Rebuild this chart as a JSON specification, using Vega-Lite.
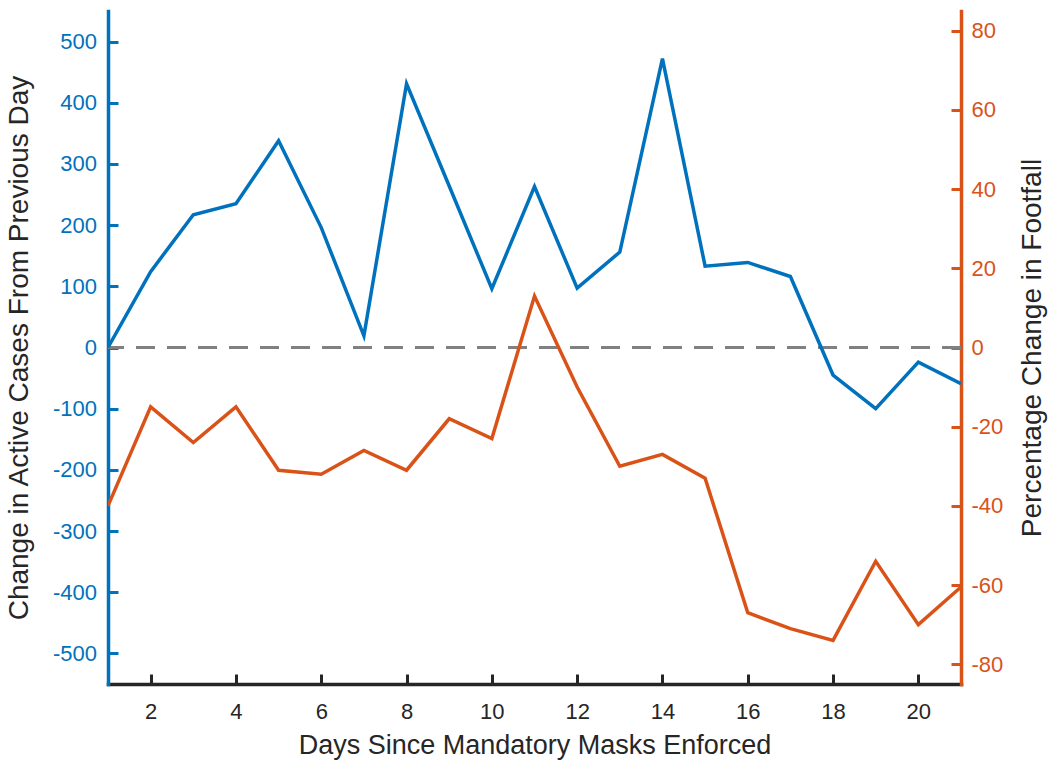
{
  "$schema": "https://vega.github.io/schema/vega-lite/v6.json",
  "width": 853,
  "height": 673,
  "autosize": {"type": "none"},
  "padding": {"left": 108, "top": 11, "right": 92, "bottom": 76},
  "background": "white",
  "config": {
    "view": {"stroke": null},
    "font": "Liberation Sans",
    "axis": {"grid": false, "labelFont": "Liberation Sans", "titleFont": "Liberation Sans", "labelFontSize": 22, "titleFontSize": 28, "titleFontWeight": "normal", "tickSize": -10, "tickWidth": 3, "domainWidth": 3.5, "domainCap": "square", "labelOverlap": false, "labelFlush": false, "titleColor": "#262626", "labelExpr": "datum.value < 0 ? '-' + abs(datum.value) : '' + datum.value"}
  },
  "data": {
    "values": [
      {"day": 1, "cases": 0, "footfall": -40},
      {"day": 2, "cases": 124, "footfall": -15},
      {"day": 3, "cases": 217, "footfall": -24},
      {"day": 4, "cases": 235, "footfall": -15},
      {"day": 5, "cases": 338, "footfall": -31},
      {"day": 6, "cases": 196, "footfall": -32},
      {"day": 7, "cases": 19, "footfall": -26},
      {"day": 8, "cases": 431, "footfall": -31},
      {"day": 9, "cases": 264, "footfall": -18},
      {"day": 10, "cases": 96, "footfall": -23},
      {"day": 11, "cases": 263, "footfall": 13},
      {"day": 12, "cases": 97, "footfall": -10},
      {"day": 13, "cases": 156, "footfall": -30},
      {"day": 14, "cases": 472, "footfall": -27},
      {"day": 15, "cases": 133, "footfall": -33},
      {"day": 16, "cases": 139, "footfall": -67},
      {"day": 17, "cases": 116, "footfall": -71},
      {"day": 18, "cases": -45, "footfall": -74},
      {"day": 19, "cases": -100, "footfall": -54},
      {"day": 20, "cases": -24, "footfall": -70},
      {"day": 21, "cases": -59, "footfall": -60.5}
    ]
  },
  "layer": [
    {
      "layer": [
        {
          "mark": {"type": "rule", "color": "#808080", "strokeWidth": 2.5, "strokeDash": [19, 12]},
          "encoding": {"y": {"datum": 0, "type": "quantitative"}}
        },
        {
          "mark": {"type": "line", "color": "#0072BD", "strokeWidth": 3.5, "clip": true},
          "encoding": {
            "x": {
              "field": "day", "type": "quantitative",
              "scale": {"domain": [1, 21], "nice": false, "zero": false},
              "axis": {"orient": "bottom", "title": "Days Since Mandatory Masks Enforced", "titleFontSize": 27, "values": [2, 4, 6, 8, 10, 12, 14, 16, 18, 20], "domainColor": "#262626", "tickColor": "#262626", "labelColor": "#262626", "labelPadding": 27, "titlePadding": 10}
            },
            "y": {
              "field": "cases", "type": "quantitative",
              "title": "Change in Active Cases From Previous Day",
              "scale": {"domain": [-550, 550], "nice": false, "zero": false},
              "axis": {"orient": "left", "values": [-500, -400, -300, -200, -100, 0, 100, 200, 300, 400, 500], "domainColor": "#0072BD", "tickColor": "#0072BD", "labelColor": "#0072BD", "labelPadding": 21.5, "titlePadding": 19}
            }
          }
        }
      ]
    },
    {
      "mark": {"type": "line", "color": "#D95319", "strokeWidth": 3.5, "clip": true},
      "encoding": {
        "x": {"field": "day", "type": "quantitative", "scale": {"domain": [1, 21], "nice": false, "zero": false}},
        "y": {
          "field": "footfall", "type": "quantitative",
          "title": "Percentage Change in Footfall",
          "scale": {"domain": [-85, 85], "nice": false, "zero": false},
          "axis": {"orient": "right", "values": [-80, -60, -40, -20, 0, 20, 40, 60, 80], "domainColor": "#D95319", "tickColor": "#D95319", "labelColor": "#D95319", "labelPadding": 20, "titlePadding": 16, "titleAngle": 270, "titleBaseline": "top"}
        }
      }
    }
  ],
  "resolve": {"scale": {"y": "independent"}}
}
